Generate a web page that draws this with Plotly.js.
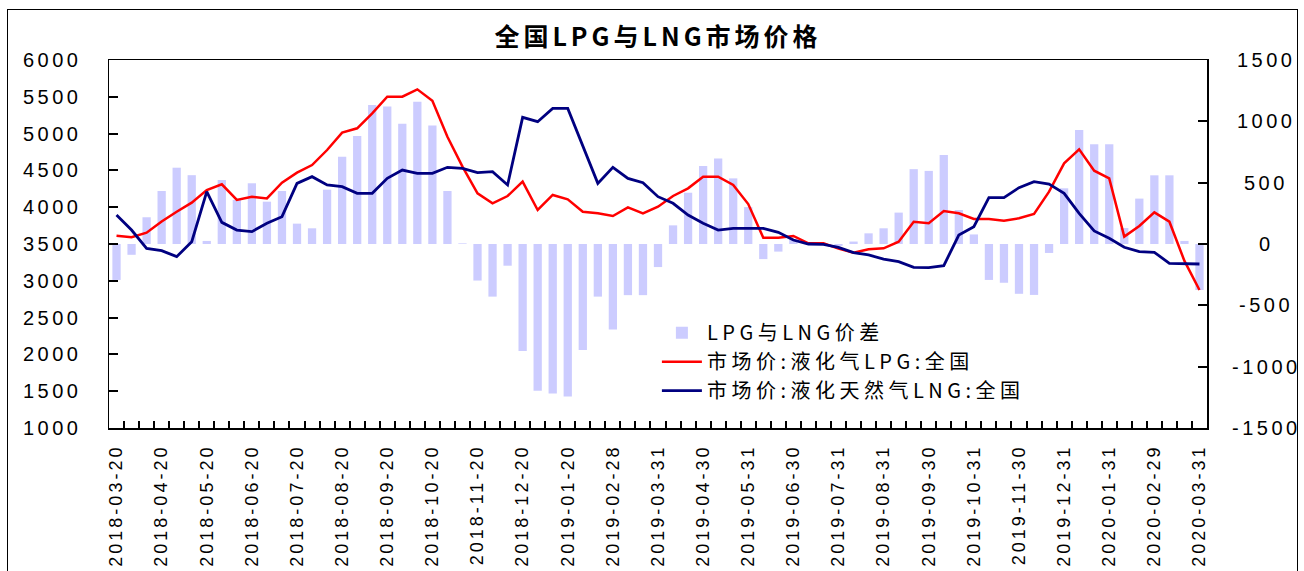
<!DOCTYPE html>
<html>
<head>
<meta charset="utf-8">
<script src="https://cdn.plot.ly/plotly-3.0.1.min.js"></script>
<style>
  html, body { margin: 0; padding: 0; background: #fff; }
  #wrap { position: relative; width: 1304px; height: 571px; overflow: hidden; }
  #frame { position: absolute; left: 7px; top: 9px; width: 1289px; height: 620px; border: 1px solid #000; pointer-events: none; }
  #chart { position: absolute; left: 0; top: 0; width: 1304px; height: 571px; }
  .x2tick text, .xtick text { letter-spacing: 3px; }
  .y2tick text { letter-spacing: 3.5px; }
  .annotation-text { letter-spacing: 3.5px; }
  .legendtext { letter-spacing: 4.5px; }
  .gtitle { letter-spacing: 4px; }
</style>
</head>
<body>
<div id="wrap">
  <div id="chart"></div>
  <div id="frame"></div>
</div>
<script>
const dates = [
  "2018-03-20","2018-03-31","2018-04-10","2018-04-20","2018-04-30","2018-05-10","2018-05-20","2018-05-31",
  "2018-06-10","2018-06-20","2018-06-30","2018-07-10","2018-07-20","2018-07-31","2018-08-10","2018-08-20",
  "2018-08-31","2018-09-10","2018-09-20","2018-09-30","2018-10-10","2018-10-20","2018-10-31","2018-11-10",
  "2018-11-20","2018-11-30","2018-12-10","2018-12-20","2018-12-31","2019-01-10","2019-01-20","2019-01-31",
  "2019-02-20","2019-02-28","2019-03-10","2019-03-20","2019-03-31","2019-04-10","2019-04-20","2019-04-30",
  "2019-05-10","2019-05-20","2019-05-31","2019-06-10","2019-06-20","2019-06-30","2019-07-10","2019-07-20",
  "2019-07-31","2019-08-10","2019-08-20","2019-08-31","2019-09-10","2019-09-20","2019-09-30","2019-10-10",
  "2019-10-20","2019-10-31","2019-11-10","2019-11-20","2019-11-30","2019-12-10","2019-12-20","2019-12-31",
  "2020-01-10","2020-01-20","2020-01-31","2020-02-10","2020-02-20","2020-02-29","2020-03-10","2020-03-20",
  "2020-03-31"
];

// LPG与LNG价差 (right axis)
const spread = [
  -293, -88, 218, 432, 622, 561, 25, 522, 360, 495, 345, 432, 166, 128, 443, 712,
  880, 1133, 1120, 980, 1160, 966, 432, 5, -298, -429, -177, -872, -1196, -1218, -1244, -864,
  -429, -698, -417, -417, -188, 152, 418, 636, 698, 535, 301, -123, -62, 40, 10, 5,
  -15, 20, 87, 128, 256, 610, 596, 726, 277, 78, -293, -316, -406, -415, -73, 454,
  929, 814, 814, 130, 370, 560, 560, 25, -375
];

// 市场价:液化气LPG:全国 (left axis)
const lpg = [
  3613, 3591, 3654, 3805, 3939, 4062, 4234, 4311, 4098, 4143, 4120, 4333, 4469, 4573, 4777, 5013,
  5072, 5275, 5502, 5502, 5601, 5447, 4958, 4551, 4188, 4053, 4152, 4347, 3962, 4166, 4107, 3939,
  3917, 3880, 3998, 3917, 4007, 4152, 4256, 4415, 4415, 4302, 4043, 3586, 3586, 3609, 3509, 3509,
  3437, 3382, 3428, 3441, 3532, 3803, 3781, 3948, 3917, 3840, 3840, 3817, 3849, 3908, 4211, 4596,
  4786, 4496, 4392, 3600, 3745, 3930, 3803, 3270, 2875
];

// 市场价:液化天然气LNG:全国 (left axis)
const lng = [
  3894, 3690, 3441, 3409, 3328, 3532, 4211, 3794, 3690, 3668, 3781, 3871, 4324, 4415, 4302, 4279,
  4188, 4188, 4392, 4505, 4460, 4460, 4542, 4528, 4469, 4483, 4302, 5221, 5162, 5343, 5343, 4845,
  4324, 4542, 4392, 4333, 4143, 4053, 3894, 3781, 3690, 3713, 3713, 3713, 3658, 3554, 3500, 3495,
  3455, 3382, 3351, 3296, 3260, 3183, 3178, 3206, 3622, 3736, 4130, 4130, 4265, 4347, 4315, 4188,
  3917, 3677, 3577, 3455, 3396, 3387, 3237, 3228, 3228
];

const rightTicks = [1500, 1000, 500, 0, -500, -1000, -1500];
const seriesNames = ["LPG与LNG价差", "市场价:液化气LPG:全国", "市场价:液化天然气LNG:全国"];

const idx = dates.map((d, i) => i);
const labelIdx = idx.filter(i => i % 3 === 0);
const labelText = labelIdx.map(i => dates[i]);

const tickFont = { family: "Liberation Sans, Arial, sans-serif", size: 20, color: "#000" };
const cjk = "Noto Sans CJK SC, sans-serif";

const traces = [
  {
    type: "bar", name: seriesNames[0], x: idx, y: spread, yaxis: "y",
    marker: { color: "#ccccff", line: { width: 0 } }, width: 0.55,
    customdata: dates, hovertemplate: "%{customdata}: %{y}<extra></extra>"
  },
  {
    type: "scatter", mode: "lines", name: seriesNames[1], x: idx, y: lpg, yaxis: "y2",
    line: { color: "#ff0000", width: 2.5 },
    customdata: dates, hovertemplate: "%{customdata}: %{y}<extra></extra>"
  },
  {
    type: "scatter", mode: "lines", name: seriesNames[2], x: idx, y: lng, yaxis: "y2",
    line: { color: "#000080", width: 2.8 },
    customdata: dates, hovertemplate: "%{customdata}: %{y}<extra></extra>"
  },
  {
    // carries the date labels of the x axis (invisible)
    type: "scatter", mode: "markers", x: [idx[0]], y: [spread[0]], xaxis: "x2", yaxis: "y",
    marker: { opacity: 0 }, showlegend: false, hoverinfo: "skip"
  }
];

const layout = {
  width: 1304, height: 571,
  margin: { l: 109, r: 97, t: 60, b: 143, pad: 0 },
  paper_bgcolor: "#fff", plot_bgcolor: "#fff",
  showlegend: true,
  bargap: 0.45,
  title: {
    text: "全国LPG与LNG市场价格",
    font: { family: cjk, size: 25, color: "#000", weight: 700 },
    x: 0.5, xref: "paper", xanchor: "center",
    y: 1 - 37 / 571, yref: "container", yanchor: "middle"
  },
  xaxis: {
    range: [-0.5, 72.5],
    tickmode: "linear", tick0: -0.5, dtick: 1,
    ticks: "inside", ticklen: 7, tickcolor: "#000", tickwidth: 2,
    showticklabels: false, showgrid: false, zeroline: false,
    showline: true, mirror: true, linecolor: "#000", linewidth: 1.5
  },
  xaxis2: {
    overlaying: "x", anchor: "y", side: "bottom",
    range: [-0.5, 72.5],
    tickmode: "array", tickvals: labelIdx, ticktext: labelText,
    tickangle: -90, ticks: "", showgrid: false, zeroline: false, showline: false,
    tickfont: { family: "Liberation Sans, Arial, sans-serif", size: 18, color: "#000" },
    ticklabelstandoff: 12
  },
  yaxis: {
    side: "right", range: [-1500, 1500], tickmode: "array", tickvals: rightTicks,
    ticks: "inside", ticklen: 9, tickcolor: "#000", tickwidth: 2,
    showticklabels: false, showgrid: false, zeroline: false,
    showline: true, linecolor: "#000", linewidth: 1.5
  },
  yaxis2: {
    overlaying: "y", side: "left", range: [1000, 6000], dtick: 500, tick0: 1000,
    ticks: "inside", ticklen: 9, tickcolor: "#000", tickwidth: 2,
    showgrid: false, zeroline: false, showline: true, linecolor: "#000", linewidth: 1.5,
    tickfont: tickFont, ticklabelstandoff: 22
  },
  annotations: rightTicks.map(v => ({
    xref: "paper", x: 1, xshift: 59, xanchor: "center",
    yref: "y", y: v, yanchor: "middle",
    text: String(v), showarrow: false, font: tickFont
  })),
  legend: {
    x: 0.499, y: 0.312, xanchor: "left", yanchor: "top",
    bgcolor: "rgba(255,255,255,0)", borderwidth: 0,
    font: { family: cjk, size: 20, color: "#000" },
    traceorder: "normal", itemwidth: 40, tracegroupgap: 0
  }
};

Plotly.newPlot("chart", traces, layout, { displayModeBar: false, staticPlot: true });
</script>
</body>
</html>
